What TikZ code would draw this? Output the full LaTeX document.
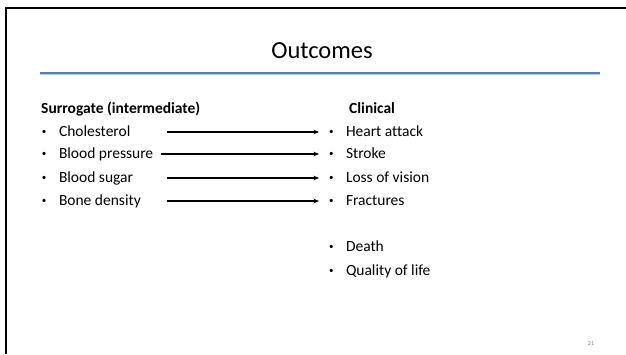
\documentclass[tikz,border=0pt]{standalone}
\usepackage{fontspec}
\setmainfont{Carlito}[Ligatures=NoCommon]
\usetikzlibrary{arrows.meta}
\newcommand\bul{\makebox[18pt][l]{\hspace{1pt}\raisebox{1.8pt}{\small•}}}
\newcommand\leftcell[1]{\makebox[126pt][l]{\bul#1}}

\begin{document}
\begin{tikzpicture}[x=1pt,y=-1pt,
	item/.style={anchor=base west,inner sep=0,outer sep=0,text height=10pt,text depth=2pt,font=\fontsize{15.5}{18}\selectfont},
	head/.style={anchor=base west,inner sep=0,font=\fontsize{15.5}{18}\selectfont\bfseries},
	link/.style={line width=1.3pt,-{Stealth[length=5.5pt,width=4.5pt]},shorten >=9pt}]
	\useasboundingbox (0,0) rectangle (626,354);
	\fill[white] (0,0) rectangle (626,354);
	\draw[line width=2.2pt] (6,354) -- (6,8) -- (626,8);
	\node[anchor=base,inner sep=0,font=\fontsize{24.5}{28}\selectfont] (title) at (322,58) {Outcomes};
	\draw[gray!40,line width=1pt] (40,74.6) -- (600,74.6);
	\draw[color={rgb,255:red,79;green,129;blue,189},line width=1.6pt] (40,73) -- (600,73);
	\node[head] (surr) at (41,113) {Surrogate (intermediate)};
	\node[head] (clin) at (349,113) {Clinical};
	\node[item] (1) at (41,136) {\leftcell{Cholesterol}};
	\node[item] (2) at (41,158) {\leftcell{Blood pressure}};
	\node[item] (3) at (41,182) {\leftcell{Blood sugar}};
	\node[item] (4) at (41,205) {\leftcell{Bone density}};
	\node[item] (5) at (328,136) {\bul Heart attack};
	\node[item] (6) at (328,158) {\bul Stroke};
	\node[item] (7) at (328,182) {\bul Loss of vision};
	\node[item] (8) at (328,205) {\bul Fractures};
	\node[item] (9) at (328,251) {\bul Death};
	\node[item] (10) at (328,275) {\bul Quality of life};
	\draw[link] (1.east) -- (5.west);
	\draw[link] ([xshift=-6pt]2.east) -- (6.west);
	\draw[link] (3.east) -- (7.west);
	\draw[link] (4.east) -- (8.west);
	\node[anchor=base,inner sep=0,text=gray,font=\fontsize{6}{7}\selectfont] (page) at (591,345) {21};
\end{tikzpicture}
\end{document}
